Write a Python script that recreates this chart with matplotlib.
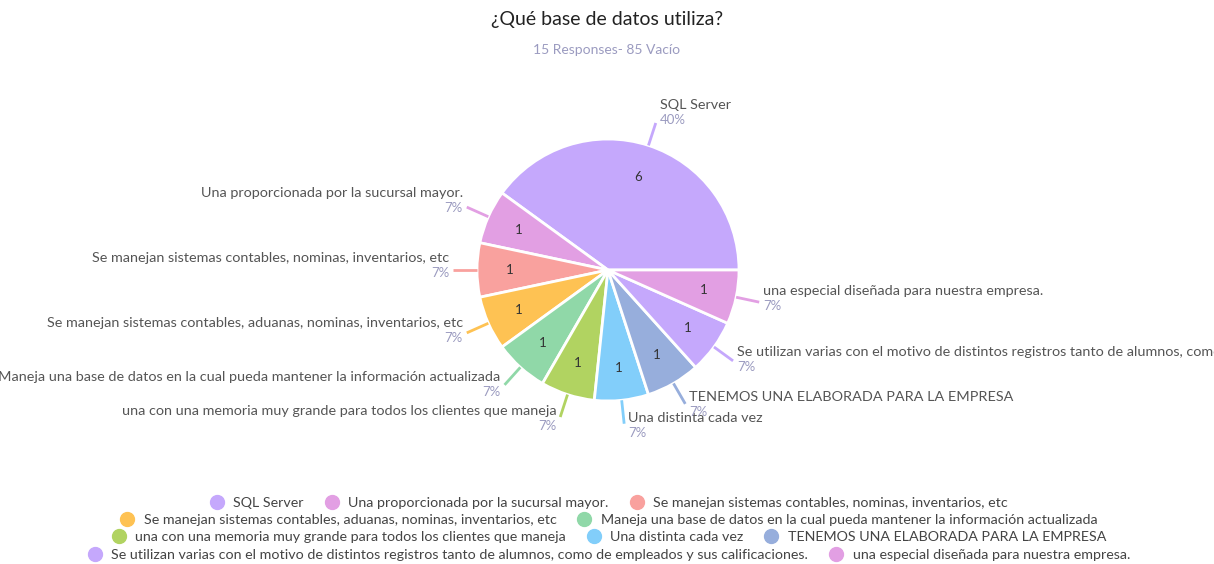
import numpy as np
import matplotlib.pyplot as plt
from matplotlib.lines import Line2D

plt.rcParams['font.family'] = ['Lato', 'DejaVu Sans']

categories = ['SQL Server',
              'Una proporcionada por la sucursal mayor.',
              'Se manejan sistemas contables, nominas, inventarios, etc',
              'Se manejan sistemas contables, aduanas, nominas, inventarios, etc',
              'Maneja una base de datos en la cual pueda mantener la información actualizada',
              'una con una memoria muy grande para todos los clientes que maneja',
              'Una distinta cada vez',
              'TENEMOS UNA ELABORADA PARA LA EMPRESA',
              'Se utilizan varias con el motivo de distintos registros tanto de alumnos, como de empleados y sus calificaciones.',
              'una especial diseñada para nuestra empresa.']
counts = [6, 1, 1, 1, 1, 1, 1, 1, 1, 1]
colors = ['#c5a8fc', '#e29fe3', '#f9a19e', '#fec253', '#90d8a8',
          '#b1d361', '#82cefa', '#97aedc', '#c5a8fc', '#e29fe3']
legend_rows = [3, 2, 3, 2]

W, H = 1214, 564
cx, cy, R = 608, 270, 131

fig = plt.figure(figsize=(W / 100, H / 100), dpi=100)
ax = fig.add_axes([0, 0, 1, 1])

total = sum(counts)
wedges, texts = ax.pie(counts, colors=colors, startangle=0, counterclock=True,
                       radius=1, wedgeprops=dict(edgecolor='white', linewidth=2))
ax.set_aspect('auto')
ax.set_xlim(-cx / R, (W - cx) / R)
ax.set_ylim(-(H - cy) / R, cy / R)
ax.axis('off')

# counts inside slices
for w, c in zip(wedges, counts):
    mid = np.deg2rad((w.theta1 + w.theta2) / 2)
    ax.text(0.75 * np.cos(mid), 0.75 * np.sin(mid), str(c), ha='center', va='center',
            fontsize=9.5, color='#333333')

# outside labels with leader lines
for w, c, lab, col in zip(wedges, counts, categories, colors):
    mid = np.deg2rad((w.theta1 + w.theta2) / 2)
    x0, y0 = np.cos(mid), np.sin(mid)
    x1, y1 = 1.18 * x0, 1.18 * y0
    ax.plot([x0, x1], [y0, y1], color=col, lw=2, solid_capstyle='butt')
    side = 1 if x0 >= 0 else -1
    ha = 'left' if side > 0 else 'right'
    tx = x1 + side * 4 / R
    py = y1 - (3 - 6 * np.sin(mid)) / R
    ax.text(tx, py, f'{c / total * 100:.0f}%', ha=ha, va='center',
            fontsize=9.5, color='#9b9bc0')
    ax.text(tx, py + 15 / R, lab, ha=ha, va='center', fontsize=10.4, color='#555555')

fig.text(0.5, 1 - 19 / H, '¿Qué base de datos utiliza?', ha='center', va='center',
         fontsize=14, color='#222222')
fig.text(0.5, 1 - 50 / H, '15 Responses- 85 Vacío', ha='center', va='center',
         fontsize=10, color='#9b9bc0')

# legend rows
row_y = [503, 520, 537, 555]
start = 0
for n, y in zip(legend_rows, row_y):
    handles = [Line2D([], [], marker='o', ls='', markersize=10, color=colors[i],
                      label=categories[i]) for i in range(start, start + n)]
    fig.legend(handles=handles, loc='center', bbox_to_anchor=(0.5, 1 - y / H),
               ncol=n, frameon=False, fontsize=10.3, handletextpad=0.4,
               columnspacing=1.2, handlelength=1.5, borderpad=0, labelcolor='#444444')
    start += n

fig.savefig('out.png', dpi=100)
